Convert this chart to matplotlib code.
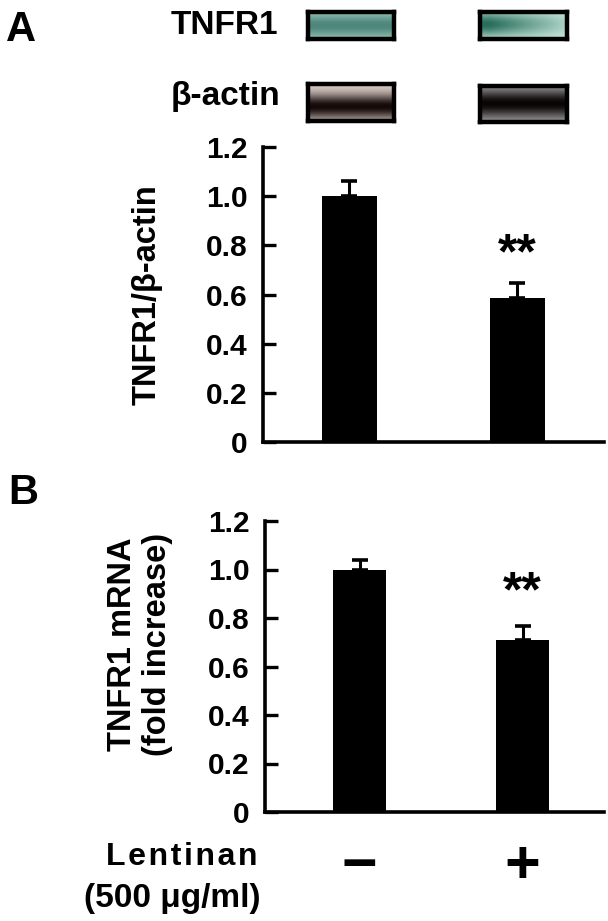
import numpy as np
import matplotlib
matplotlib.use("Agg")
import matplotlib.pyplot as plt

plt.rcParams['font.family'] = ['Liberation Sans', 'DejaVu Sans']
plt.rcParams['font.weight'] = 'bold'

# ---------------- data ----------------
groups = ['−', '+']
protein_ratio = [1.00, 0.585]        # panel A, TNFR1/beta-actin
protein_err = [0.062, 0.062]
mrna_fold = [1.00, 0.71]             # panel B, TNFR1 mRNA fold increase
mrna_err = [0.04, 0.055]
yticks = [0, 0.2, 0.4, 0.6, 0.8, 1.0, 1.2]
ytick_labels = ['0', '0.2', '0.4', '0.6', '0.8', '1.0', '1.2']
signif = ['', '**']

W, H = 608, 921
fig = plt.figure(figsize=(W / 100, H / 100), dpi=100)


def fax(x0, y0, x1, y1):
    return fig.add_axes([x0 / W, 1 - y1 / H, (x1 - x0) / W, (y1 - y0) / H])


# ---------------- blots (decorative images) ----------------
def blot(x0, y0, x1, y1, bg, band, center, sigma, horiz):
    ax = fax(x0, y0, x1, y1)
    h, w = 40, 120
    yy = np.linspace(0, 1, h)[:, None]
    xx = np.linspace(0, 1, w)[None, :]
    prof = np.exp(-((yy - center) / sigma) ** 2) * horiz(xx)
    prof = np.clip(prof, 0, 1)
    bg = np.array(bg) / 255.0
    band = np.array(band) / 255.0
    img = bg[None, None, :] * (1 - prof[..., None]) + band[None, None, :] * prof[..., None]
    ax.imshow(img, aspect='auto', interpolation='bilinear')
    ax.set_xticks([]); ax.set_yticks([])
    for s in ax.spines.values():
        s.set_linewidth(3.2)
        s.set_color('black')


blot(308, 12, 394, 39, (175, 215, 200), (60, 120, 110), 0.5, 0.45,
     lambda x: 0.85 + 0.0 * x)
blot(480, 12, 567, 39, (205, 235, 225), (40, 110, 90), 0.45, 0.45,
     lambda x: np.clip(1.1 - 0.9 * x, 0.2, 1.0))
blot(308, 84, 394, 121, (225, 212, 205), (20, 8, 8), 0.62, 0.33,
     lambda x: 1.0 + 0.0 * x)
blot(480, 86, 567, 122, (200, 195, 200), (10, 5, 5), 0.5, 0.42,
     lambda x: 1.0 + 0.0 * x)

fig.text(171 / W, 1 - 26 / H, 'TNFR1', fontsize=24, fontweight='bold',
         ha='left', va='center')
fig.text(171 / W, 1 - 97 / H, 'β-actin', fontsize=24, fontweight='bold',
         ha='left', va='center')
fig.text(6 / W, 1 - 30 / H, 'A', fontsize=30, fontweight='bold', ha='left', va='center')
fig.text(8 / W, 1 - 493 / H, 'B', fontsize=30, fontweight='bold', ha='left', va='center')


# ---------------- bar panels ----------------
def panel(ax, vals, errs, xlim, width, star_y):
    x = np.arange(len(vals))
    ax.bar(x, vals, width=width, color='black', zorder=2,
           yerr=[np.zeros(len(errs)), errs],
           error_kw=dict(ecolor='black', elinewidth=2.2, capsize=5.5, capthick=2.6, zorder=1))
    ax.set_xlim(*xlim)
    ax.set_ylim(0, 1.2)
    ax.spines['top'].set_visible(False)
    ax.spines['right'].set_visible(False)
    for s in ('left', 'bottom'):
        ax.spines[s].set_linewidth(2.6)
    ax.set_xticks([])
    ax.set_yticks(yticks)
    ax.set_yticklabels(ytick_labels, fontsize=21.5, fontweight='bold')
    ax.tick_params(axis='y', direction='in', length=9, width=2.4, pad=11)
    for xi, s in zip(x, signif):
        if s:
            ax.text(xi, star_y, s, ha='center', va='center', fontsize=36, fontweight='bold')
    return x


axA = fax(263, 147, 604, 442)
panel(axA, protein_ratio, protein_err, (-0.516, 1.519), 0.328, 0.76)
fig.text(147 / W, 1 - 295 / H, 'TNFR1/β-actin', rotation=90, fontsize=23.5,
         fontweight='bold', ha='center', va='center')

axB = fax(265, 521, 604, 812)
xb = panel(axB, mrna_fold, mrna_err, (-0.580, 1.500), 0.325, 0.90)
fig.text(140 / W, 1 - 644 / H, 'TNFR1 mRNA\n(fold increase)', rotation=90, fontsize=23.5,
         fontweight='bold', ha='center', va='center', linespacing=1.15, multialignment='center')

for xi, g in zip(xb, groups):
    axB.text(xi, (812 - 868) / 291, g, transform=axB.get_xaxis_transform(),
             ha='center', va='center', fontsize=44, fontweight='bold')

hs = '\u200a'
fig.text(257 / W, 1 - 857 / H, hs.join('Lentinan'), fontsize=23, fontweight='bold',
         ha='right', va='center')
fig.text(260 / W, 1 - 898 / H, '(500 μg/ml)', fontsize=24, fontweight='bold',
         ha='right', va='center')

fig.savefig('out.png', dpi=100)
